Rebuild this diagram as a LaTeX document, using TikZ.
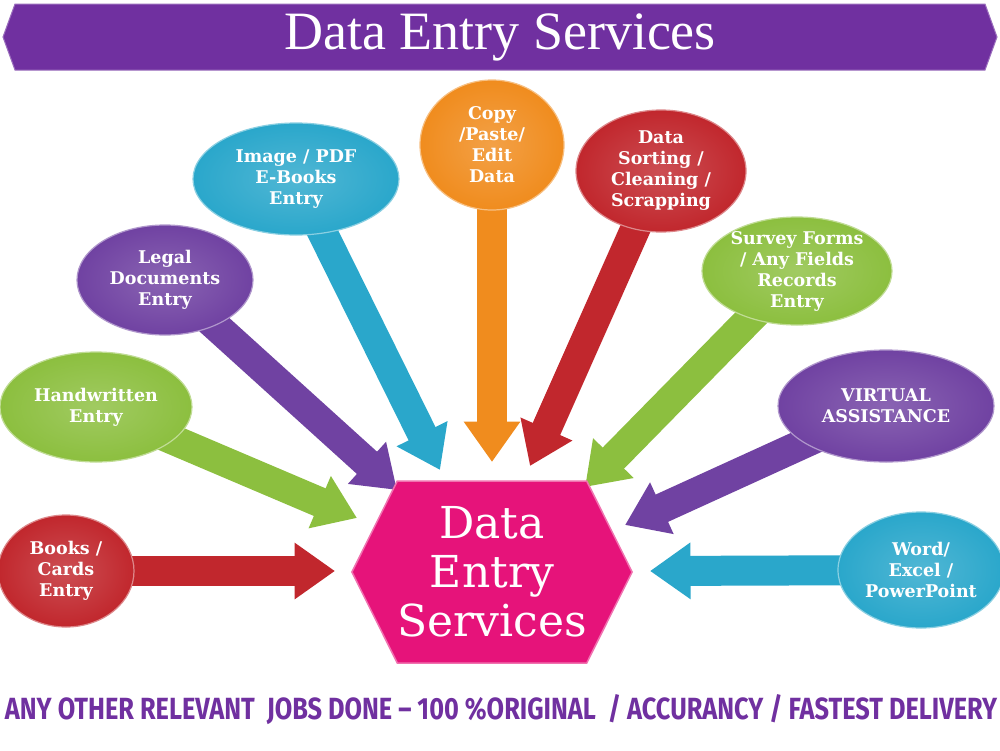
\documentclass[tikz,border=0pt]{standalone}
\usepackage{fontspec}
\setmainfont{DejaVu Serif}
\newfontfamily\titlefont{Liberation Serif}
\newfontfamily\footfont{Fira Sans}
\usetikzlibrary{shapes.geometric,shapes.symbols,arrows.meta,backgrounds}
\definecolor{bannerpurple}{HTML}{7030A0}
\definecolor{hexpink}{HTML}{E6137A}
\definecolor{cred}{HTML}{C1272D}
\definecolor{cgreen}{HTML}{8CBF3F}
\definecolor{cpurple}{HTML}{7042A2}
\definecolor{ccyan}{HTML}{2AA7CB}
\definecolor{corange}{HTML}{F08C1E}
\begin{document}
\begin{tikzpicture}[x=1pt,y=-1pt,
  bubble/.style={ellipse, inner sep=-6pt, align=center, text=white,
    font=\bfseries\fontsize{17.5}{21}\selectfont,
    draw=#1!55!white, line width=1.2pt, inner color=#1!82!white, outer color=#1},
  fat/.style={line width=30pt, draw=#1,
    -{Triangle[length=0pt 1.35, width=0pt 1.8]}}]
\useasboundingbox (0,0) rectangle (1000,750);

% banner
\node[signal, signal to=east and west, signal pointer angle=140,
  minimum width=994pt, minimum height=66pt, inner sep=0pt,
  fill=bannerpurple, draw=bannerpurple!70!white, line width=1pt, text=white,
  font=\titlefont\fontsize{54}{54}\selectfont] (banner) at (500,37) {Data Entry Services};

% hub
\node[signal, signal to=east and west, signal pointer angle=127,
  minimum width=280pt, minimum height=182pt, inner sep=0pt,
  fill=hexpink, draw=hexpink!60!white, line width=1.5pt, text=white, align=center,
  font=\fontsize{44}{49}\selectfont] (hub) at (492,572) {Data\\Entry\\Services};

% bubbles
\node[bubble=cred, minimum width=136pt, minimum height=112pt] (b1) at (66,571) {Books /\\Cards\\Entry};
\node[bubble=cgreen, minimum width=192pt, minimum height=110pt] (b2) at (96,407) {Handwritten\\Entry};
\node[bubble=cpurple, minimum width=176pt, minimum height=110pt] (b3) at (165,280) {Legal\\Documents\\Entry};
\node[bubble=ccyan, minimum width=206pt, minimum height=112pt] (b4) at (296,179) {Image / PDF\\E-Books\\Entry};
\node[bubble=corange, minimum width=144pt, minimum height=130pt] (b5) at (492,145) {Copy\\/Paste/\\Edit\\Data};
\node[bubble=cred, minimum width=170pt, minimum height=122pt] (b6) at (661,171) {Data\\Sorting /\\Cleaning /\\Scrapping};
\node[bubble=cgreen, minimum width=190pt, minimum height=108pt] (b7) at (797,271) {Survey Forms\\/ Any Fields\\Records\\Entry};
\node[bubble=cpurple, minimum width=216pt, minimum height=112pt] (b8) at (886,406) {VIRTUAL\\ASSISTANCE};
\node[bubble=ccyan, minimum width=166pt, minimum height=116pt] (b9) at (921,570) {Word/\\Excel /\\PowerPoint};

% arrow tips
\coordinate (t1) at (335,571);
\coordinate (t2) at (357,518);
\coordinate (t3) at (397,490);
\coordinate (t4) at (440,470);
\coordinate (t5) at (492,462);
\coordinate (t6) at (530,466);
\coordinate (t7) at (585,487);
\coordinate (t8) at (625,525);
\coordinate (t9) at (650,571);

\begin{pgfonlayer}{background}
\fill[white] (0,0) rectangle (1000,750);
\draw[fat=cred] (b1.center) -- (t1);
\draw[fat=cgreen] (b2.center) -- (t2);
\draw[fat=cpurple] (b3.center) -- (t3);
\draw[fat=ccyan] (b4.center) -- (t4);
\draw[fat=corange] (b5.center) -- (t5);
\draw[fat=cred] (b6.center) -- (t6);
\draw[fat=cgreen] (b7.center) -- (t7);
\draw[fat=cpurple] (b8.center) -- (t8);
\draw[fat=ccyan] (b9.center) -- (t9);
\end{pgfonlayer}

% footer
\node[text=bannerpurple, inner sep=0pt] (footer) at (501,710)
  {\resizebox{992pt}{25pt}{\footfont\bfseries ANY OTHER RELEVANT~ JOBS DONE \textendash{} 100 \%ORIGINAL~ / ACCURANCY / FASTEST DELIVERY}};
\end{tikzpicture}
\end{document}
